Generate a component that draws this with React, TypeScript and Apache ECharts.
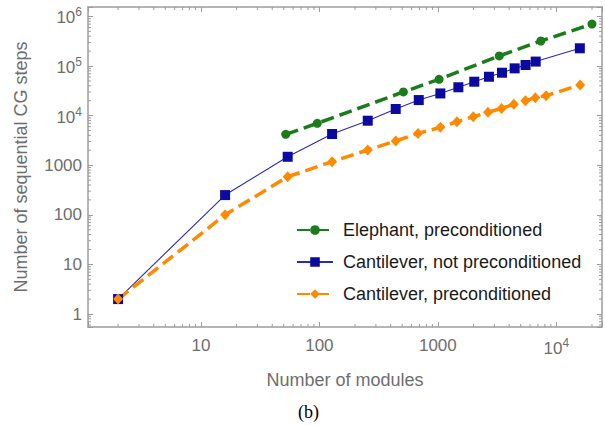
import React, { useEffect, useRef } from "react";
import * as echarts from "echarts";

const elephantX = [52, 96, 512, 1024, 3300, 7400, 20000];
const elephantY = [4200, 7000, 30000, 54000, 160000, 320000, 700000];

const cantNotX = [2, 16, 54, 128, 256, 441, 690, 1050, 1490, 2030, 2700, 3480, 4450, 5500, 6700, 15800];
const cantNotY = [2, 250, 1480, 4260, 7900, 13600, 20600, 28000, 37300, 48300, 60800, 73300, 89800, 105000, 123000, 228000];

const cantPreX = [2, 16, 54, 128, 256, 441, 680, 1050, 1450, 1990, 2650, 3450, 4380, 5480, 6650, 8200, 15900];
const cantPreY = [2, 100, 585, 1180, 2030, 3080, 4380, 5800, 7560, 9500, 11700, 14000, 16900, 20000, 23000, 25300, 41500];

const seriesNames = [
  "Elephant, preconditioned",
  "Cantilever, not preconditioned",
  "Cantilever, preconditioned",
];

const X_MIN = 1.114;
const X_MAX = 24300;
const Y_MIN = 0.547;
const Y_MAX = 1550000;

const xDecades = [1, 10, 100, 1000, 10000];
const yDecades = [0.1, 1, 10, 100, 1000, 10000, 100000, 1000000];
const minorMultipliers = [2, 3, 4, 5, 6, 7, 8, 9];

const AXIS_COLOR = "#9c9c9c";
const LABEL_COLOR = "#6e6e6e";
const FONT = "'Liberation Sans', Arial, sans-serif";

function minorTicks(decades: number[], lo: number, hi: number) {
  const out: number[] = [];
  decades.forEach((d) =>
    minorMultipliers.forEach((m) => {
      const v = d * m;
      if (v > lo && v < hi) out.push(v);
    })
  );
  return out;
}

function powLabel(v: number) {
  const e = Math.log10(v);
  const r = Math.round(e);
  if (Math.abs(e - r) > 1e-6) return "";
  if (r <= 3) return String(Math.round(Math.pow(10, r)));
  return "{b|10}{sup|" + r + "}";
}

const richLabel = {
  b: { fontSize: 17, fontFamily: FONT, color: LABEL_COLOR, verticalAlign: "bottom" },
  sup: {
    fontSize: 12,
    fontFamily: FONT,
    color: LABEL_COLOR,
    verticalAlign: "bottom",
    padding: [0, 0, 8, 0],
  },
};

export default function App() {
  const ref = useRef<HTMLDivElement>(null);

  useEffect(() => {
    if (!ref.current) return;
    const chart = echarts.init(ref.current, undefined, { renderer: "svg" });

    const xMinor = minorTicks(xDecades, X_MIN, X_MAX);
    const yMinor = minorTicks(yDecades, Y_MIN, Y_MAX);

    const tickStyle = { stroke: AXIS_COLOR, lineWidth: 1 };

    const baseAxis = {
      type: "log",
      logBase: 10,
      axisLine: { show: true, onZero: false, lineStyle: { color: AXIS_COLOR, width: 1.5 } },
      axisTick: { show: true, inside: true, length: 5, lineStyle: { color: AXIS_COLOR, width: 1 } },
      splitLine: { show: false },
      minorTick: { show: false },
    };

    const option: any = {
      animation: false,
      backgroundColor: "#ffffff",
      grid: { left: 88, right: 2.5, top: 7, bottom: 98, containLabel: false },
      legend: {
        orient: "vertical",
        left: 296,
        top: 221,
        padding: 0,
        itemWidth: 36,
        itemHeight: 12,
        itemGap: 14,
        data: seriesNames,
        textStyle: { fontSize: 18, fontFamily: FONT, color: "#1a1a1a", padding: [0, 0, 0, 5] },
      },
      xAxis: [
        {
          ...baseAxis,
          min: X_MIN,
          max: X_MAX,
          position: "bottom",
          name: "Number of modules",
          nameLocation: "middle",
          nameGap: 44,
          nameTextStyle: { fontSize: 18, fontFamily: FONT, color: LABEL_COLOR },
          axisLabel: {
            show: true,
            margin: 10,
            fontSize: 17,
            fontFamily: FONT,
            color: LABEL_COLOR,
            formatter: powLabel,
            rich: richLabel,
          },
        },
        {
          ...baseAxis,
          min: X_MIN,
          max: X_MAX,
          position: "top",
          axisLabel: { show: false },
        },
      ],
      yAxis: [
        {
          ...baseAxis,
          min: Y_MIN,
          max: Y_MAX,
          position: "left",
          name: "Number of sequential CG steps",
          nameLocation: "middle",
          nameGap: 58,
          nameTextStyle: { fontSize: 18, fontFamily: FONT, color: LABEL_COLOR },
          axisLabel: {
            show: true,
            margin: 6,
            fontSize: 17,
            fontFamily: FONT,
            color: LABEL_COLOR,
            formatter: powLabel,
            rich: richLabel,
          },
        },
        {
          ...baseAxis,
          min: Y_MIN,
          max: Y_MAX,
          position: "right",
          axisLabel: { show: false },
        },
      ],
      graphic: [
        {
          type: "text",
          left: 298,
          top: 403,
          style: {
            text: "(b)",
            font: "18px 'Liberation Serif', 'Times New Roman', serif",
            fill: "#000000",
          },
        },
      ],
      series: [
        {
          name: seriesNames[0],
          type: "line",
          data: elephantX.map((x, i) => [x, elephantY[i]]),
          symbol: "circle",
          symbolSize: 9,
          color: "#1b7c1b",
          lineStyle: { width: 3.5, type: [13, 6], color: "#1b7c1b" },
          itemStyle: { color: "#1b7c1b" },
        },
        {
          name: seriesNames[1],
          type: "line",
          data: cantNotX.map((x, i) => [x, cantNotY[i]]),
          symbol: "rect",
          symbolSize: 10,
          color: "#0a0aa0",
          lineStyle: { width: 1.1, color: "#2a2ab4" },
          itemStyle: { color: "#0a0aa0" },
        },
        {
          name: seriesNames[2],
          type: "line",
          data: cantPreX.map((x, i) => [x, cantPreY[i]]),
          symbol: "diamond",
          symbolSize: [10, 11],
          color: "#ff8a00",
          lineStyle: { width: 3.5, type: [13, 6], color: "#ff8a00" },
          itemStyle: { color: "#ff8a00" },
        },
        {
          type: "custom",
          silent: true,
          data: xMinor.map((v) => [v, Y_MIN]),
          renderItem: (params: any, api: any) => {
            const v = api.value(0);
            const b = api.coord([v, Y_MIN]);
            const t = api.coord([v, Y_MAX]);
            return {
              type: "group",
              children: [
                { type: "line", shape: { x1: b[0], y1: b[1], x2: b[0], y2: b[1] - 3 }, style: tickStyle },
                { type: "line", shape: { x1: t[0], y1: t[1], x2: t[0], y2: t[1] + 3 }, style: tickStyle },
              ],
            };
          },
        },
        {
          type: "custom",
          silent: true,
          data: yMinor.map((v) => [X_MIN, v]),
          renderItem: (params: any, api: any) => {
            const v = api.value(1);
            const l = api.coord([X_MIN, v]);
            const r = api.coord([X_MAX, v]);
            return {
              type: "group",
              children: [
                { type: "line", shape: { x1: l[0], y1: l[1], x2: l[0] + 3, y2: l[1] }, style: tickStyle },
                { type: "line", shape: { x1: r[0], y1: r[1], x2: r[0] - 3, y2: r[1] }, style: tickStyle },
              ],
            };
          },
        },
      ],
    };

    chart.setOption(option);
    return () => chart.dispose();
  }, []);

  return (
    <div
      ref={ref}
      style={{ position: "fixed", left: 0, top: 0, width: 605, height: 425, background: "#fff" }}
    />
  );
}
